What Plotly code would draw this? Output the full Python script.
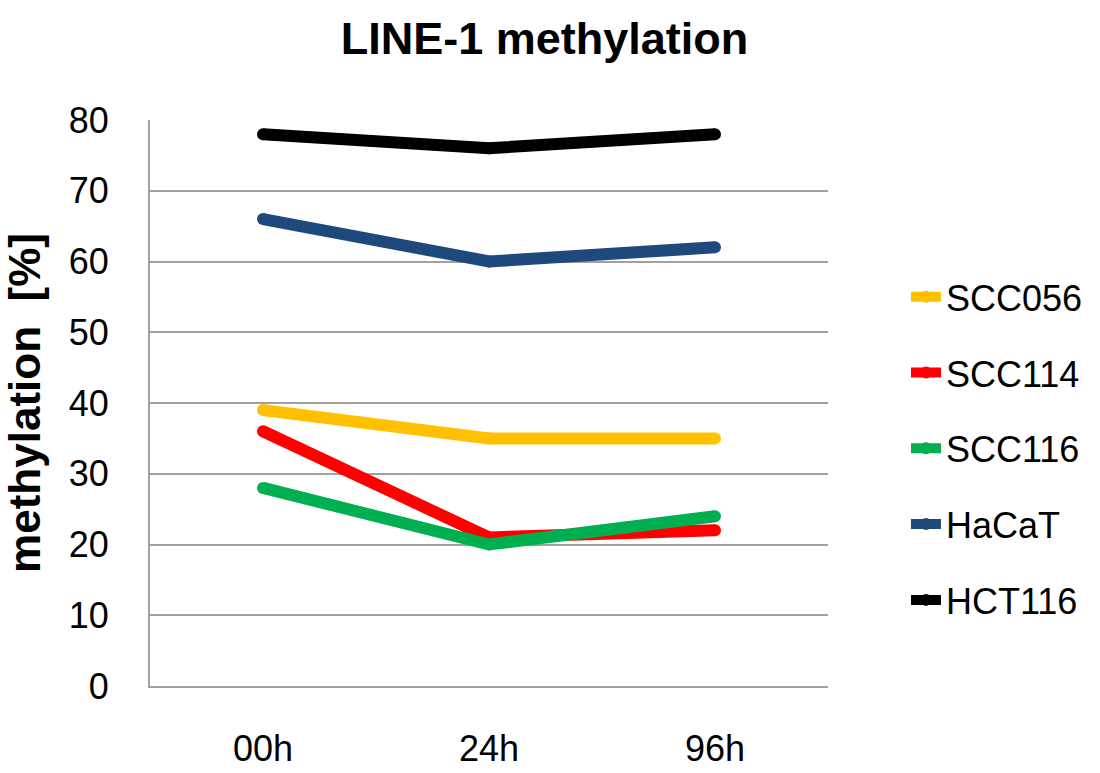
import plotly.graph_objects as go

categories = ["00h", "24h", "96h"]
series_names = ["SCC056", "SCC114", "SCC116", "HaCaT", "HCT116"]
scc056 = [39, 35, 35]
scc114 = [36, 21, 22]
scc116 = [28, 20, 24]
hacat = [66, 60, 62]
hct116 = [78, 76, 78]
colors = ["#FFC000", "#FF0000", "#00B050", "#1F497D", "#000000"]
y_ticks = [0, 10, 20, 30, 40, 50, 60, 70, 80]

fig = go.Figure()
for name, vals, col in zip(series_names, [scc056, scc114, scc116, hacat, hct116], colors):
    fig.add_trace(go.Scatter(
        x=categories, y=vals, name=name, mode="lines+markers",
        line=dict(color=col, width=12),
        marker=dict(color=col, size=12, line=dict(width=0)),
        legendgroup=name,
    ))

font_family = "Liberation Sans, Arial, sans-serif"
fig.update_layout(
    width=1100, height=773,
    margin=dict(l=150, r=272, t=120, b=87),
    paper_bgcolor="white", plot_bgcolor="white",
    font=dict(family=font_family, color="black", size=36),
    title=dict(text="<b>LINE-1 methylation</b>", x=0.495, xanchor="center",
               y=0.95, yanchor="middle", font=dict(size=45, color="black")),
    showlegend=True,
    legend=dict(x=1.115, xanchor="left", y=0.42, yanchor="middle",
                font=dict(size=36), tracegroupgap=26,
                bgcolor="rgba(0,0,0,0)"),
)
fig.update_xaxes(
    type="category", range=[-0.5, 2.5], showgrid=False, showline=True,
    linecolor="#A0A0A0", linewidth=2, automargin=False,
    ticks="", tickfont=dict(size=36), ticklabelstandoff=30,
)
fig.update_yaxes(
    range=[0, 80], tickvals=y_ticks, showgrid=True, gridcolor="#A0A0A0", gridwidth=1.5,
    showline=True, linecolor="#A0A0A0", linewidth=2, zeroline=False, automargin=False,
    ticks="", tickfont=dict(size=36), ticklabelstandoff=32,
    title=dict(text="<b>methylation  [%]</b>", font=dict(size=44), standoff=18),
)

fig.write_html("out.html")
